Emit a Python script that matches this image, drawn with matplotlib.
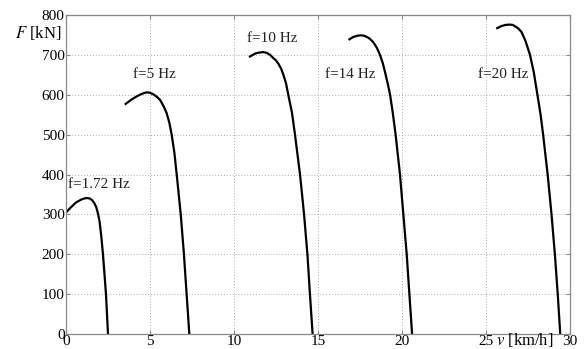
import matplotlib
matplotlib.use("Agg")
import matplotlib.pyplot as plt

# speed v [km/h] and force F [kN] for each excitation frequency
v_172 = [0, 0.3, 0.6, 0.9, 1.1, 1.25, 1.4, 1.55, 1.7, 1.8, 1.9, 2.0, 2.1, 2.2, 2.3, 2.38, 2.5]
F_172 = [305, 318, 330, 337, 340, 341, 340, 336, 327, 318, 303, 282, 245, 200, 145, 100, 0]

v_5 = [3.55, 3.9, 4.21, 4.5, 4.7, 4.84, 5.0, 5.2, 5.4, 5.6, 5.8, 5.99, 6.15, 6.29, 6.45, 6.59, 6.83, 7.02, 7.18, 7.34]
F_5 = [577, 588, 596, 602, 605, 606, 605, 601, 595, 587, 572, 554, 530, 500, 455, 400, 300, 200, 100, 0]

v_10 = [10.95, 11.3, 11.55, 11.75, 11.95, 12.15, 12.34, 12.5, 12.64, 12.8, 12.94, 13.1, 13.23, 13.45, 13.63, 13.93, 14.17, 14.37, 14.52, 14.68]
F_10 = [696, 704, 706, 707, 705, 700, 692, 686, 678, 666, 650, 628, 600, 555, 500, 400, 300, 200, 100, 0]

v_14 = [16.87, 17.1, 17.35, 17.54, 17.75, 18.0, 18.15, 18.3, 18.5, 18.69, 18.85, 19.0, 19.15, 19.29, 19.45, 19.62, 19.88, 20.08, 20.28, 20.44, 20.6]
F_14 = [739, 745, 748, 749, 748, 743, 738, 731, 718, 700, 680, 655, 628, 600, 555, 500, 400, 300, 200, 100, 0]

v_20 = [25.67, 25.9, 26.15, 26.39, 26.6, 26.8, 26.95, 27.12, 27.35, 27.62, 27.85, 28.06, 28.25, 28.4, 28.67, 28.9, 29.1, 29.27, 29.42]
F_20 = [767, 772, 775, 776, 775, 770, 765, 757, 735, 700, 655, 600, 550, 500, 400, 300, 200, 100, 0]

labels = ["f=1.72 Hz", "f=5 Hz", "f=10 Hz", "f=14 Hz", "f=20 Hz"]
label_pos = [(0.12, 375), (4.0, 650), (10.8, 742), (15.4, 650), (24.55, 650)]

xticks = [0, 5, 10, 15, 20, 25, 30]
yticks = [0, 100, 200, 300, 400, 500, 600, 700, 800]

plt.rcParams['font.family'] = ['Liberation Serif', 'DejaVu Serif']
plt.rcParams['mathtext.fontset'] = 'stix'

fig = plt.figure(figsize=(5.84, 3.49), dpi=100)
ax = fig.add_axes([66/584, 1 - 334/349, 504/584, 319/349])

for v, F in [(v_172, F_172), (v_5, F_5), (v_10, F_10), (v_14, F_14), (v_20, F_20)]:
    ax.plot(v, F, color='black', linewidth=1.6, solid_joinstyle='round')

for lab, (x, y) in zip(labels, label_pos):
    ax.text(x, y, lab, fontsize=11, ha='left', va='center', color='#222222')

ax.set_xlim(0, 30)
ax.set_ylim(0, 800)
ax.set_xticks(xticks)
ax.set_yticks(yticks)
ax.set_xticklabels([str(t) for t in xticks])
ax.set_yticklabels([str(t) for t in yticks])
ax.tick_params(direction='in', length=3, top=True, right=True, labelsize=11,
               color='#888888', pad=1)
ax.grid(True, linestyle=(0, (1, 2)), color='#aaaaaa', linewidth=0.7)
for s in ax.spines.values():
    s.set_color('#888888')
    s.set_linewidth(0.9)

ax.text(-0.101, 0.944, '$F$ [kN]', transform=ax.transAxes, fontsize=12,
        ha='left', va='center')
ax.text(25.6, -0.036, '$v$ [km/h]', transform=ax.get_xaxis_transform(),
        fontsize=12, ha='left', va='baseline')

fig.savefig('out.png', dpi=100)
